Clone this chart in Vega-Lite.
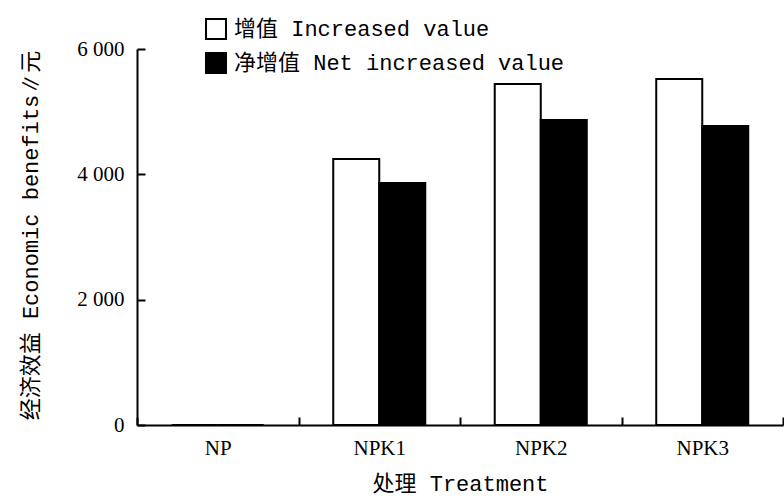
{
  "$schema": "https://vega.github.io/schema/vega-lite/v6.json",
  "width": 646,
  "height": 376,
  "autosize": {"type": "none"},
  "padding": {"left": 137, "top": 49, "right": 1, "bottom": 77},
  "background": "white",
  "config": {"view": {"stroke": null}},
  "data": {
    "values": [
      {"treatment": "NP", "type": "增值 Increased value", "value": 0},
      {"treatment": "NP", "type": "净增值 Net increased value", "value": 0},
      {"treatment": "NPK1", "type": "增值 Increased value", "value": 4245},
      {"treatment": "NPK1", "type": "净增值 Net increased value", "value": 3862},
      {"treatment": "NPK2", "type": "增值 Increased value", "value": 5441},
      {"treatment": "NPK2", "type": "净增值 Net increased value", "value": 4867},
      {"treatment": "NPK3", "type": "增值 Increased value", "value": 5521},
      {"treatment": "NPK3", "type": "净增值 Net increased value", "value": 4771}
    ]
  },
  "mark": {"type": "bar", "stroke": "black", "strokeWidth": 2},
  "encoding": {
    "x": {
      "field": "treatment",
      "type": "nominal",
      "sort": ["NP", "NPK1", "NPK2", "NPK3"],
      "scale": {"paddingInner": 0, "paddingOuter": 0},
      "axis": {
        "title": "处理 Treatment",
        "labelAngle": 0,
        "tickBand": "extent",
        "tickSize": -8,
        "tickWidth": 2,
        "tickColor": "black",
        "domainColor": "black",
        "domainWidth": 2,
        "labelFont": "Liberation Serif",
        "labelFontSize": 21,
        "labelColor": "black",
        "labelPadding": 20,
        "titleFont": "Liberation Mono, Noto Sans CJK SC",
        "titleFontSize": 22,
        "titleFontWeight": "normal",
        "titleColor": "black",
        "titleBaseline": "middle",
        "titleY": 58
      }
    },
    "xOffset": {
      "field": "type",
      "type": "nominal",
      "sort": ["增值 Increased value", "净增值 Net increased value"],
      "scale": {"paddingInner": 0, "paddingOuter": 0.755}
    },
    "y": {
      "field": "value",
      "type": "quantitative",
      "scale": {"domain": [0, 6000], "nice": false},
      "axis": {
        "title": "经济效益 Economic benefits∥元",
        "values": [0, 2000, 4000, 6000],
        "labelExpr": "replace(format(datum.value, ','), ',', ' ')",
        "grid": false,
        "tickSize": -8,
        "tickWidth": 2,
        "tickColor": "black",
        "domainColor": "black",
        "domainWidth": 2,
        "labelFont": "Liberation Serif",
        "labelFontSize": 21,
        "labelColor": "black",
        "labelPadding": 21,
        "titleFont": "Liberation Mono, Noto Sans CJK SC",
        "titleFontSize": 22,
        "titleFontWeight": "normal",
        "titleColor": "black",
        "titleAngle": 270,
        "titleBaseline": "middle",
        "titleAlign": "center",
        "titleX": -107,
        "titleY": 186
      }
    },
    "fill": {
      "field": "type",
      "type": "nominal",
      "sort": ["增值 Increased value", "净增值 Net increased value"],
      "scale": {"domain": ["增值 Increased value", "净增值 Net increased value"], "range": ["white", "black"]},
      "legend": {
        "title": null,
        "orient": "none",
        "legendX": 68,
        "legendY": -31,
        "symbolType": "square",
        "symbolSize": 400,
        "symbolStrokeColor": "black",
        "symbolStrokeWidth": 2,
        "labelFont": "Liberation Mono, Noto Sans CJK SC",
        "labelFontSize": 22,
        "labelColor": "black",
        "labelOffset": 7,
        "rowPadding": 6,
        "labelLimit": 500
      }
    }
  }
}
